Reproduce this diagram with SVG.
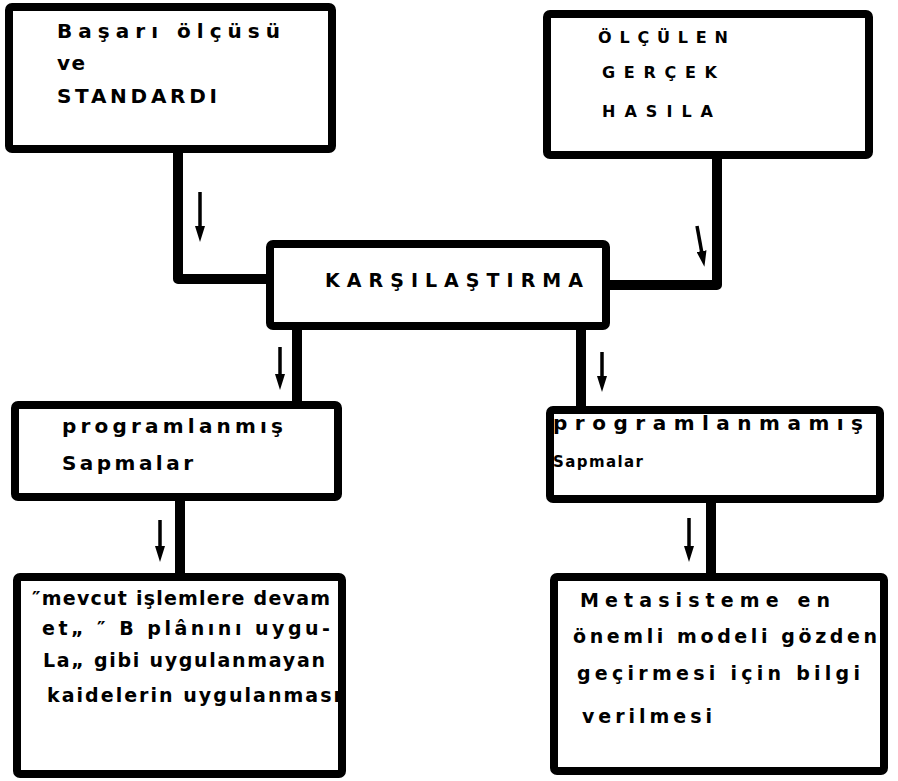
<svg xmlns="http://www.w3.org/2000/svg" width="898" height="781" viewBox="0 0 898 781">
<style>
.box{fill:#fff;stroke:#000;stroke-width:8;stroke-linejoin:round}
.conn{fill:none;stroke:#000;stroke-width:10;stroke-linejoin:round}
.arr{fill:none;stroke:#000;stroke-width:3.5}
.t{font-family:"DejaVu Sans","Liberation Sans",sans-serif;font-size:20px;font-weight:bold;fill:#000}
.s{font-size:16px}
.m{font-size:19px}
.xs{font-size:15px}
</style>
<defs>
<marker id="ah" viewBox="0 0 16 10" refX="8" refY="5" markerWidth="16" markerHeight="10" markerUnits="userSpaceOnUse" orient="auto">
<path d="M0,0 L16,5 L0,10 z" fill="#000"/>
</marker>
</defs>
<rect width="898" height="781" fill="#fff"/>
<g id="connectors">
<path class="conn" d="M178,149 V279 H270"/>
<path class="conn" d="M717,153 V285 H606"/>
<path class="conn" d="M297,326 V405"/>
<path class="conn" d="M581,326 V410"/>
<path class="conn" d="M180,497 V577"/>
<path class="conn" d="M711,499 V577"/>
<line class="arr" x1="200" y1="192" x2="200" y2="234" marker-end="url(#ah)"/>
<line class="arr" x1="697" y1="226" x2="703" y2="259" marker-end="url(#ah)"/>
<line class="arr" x1="280" y1="347" x2="280" y2="382" marker-end="url(#ah)"/>
<line class="arr" x1="602" y1="352" x2="602" y2="384" marker-end="url(#ah)"/>
<line class="arr" x1="160" y1="520" x2="160" y2="554" marker-end="url(#ah)"/>
<line class="arr" x1="689" y1="518" x2="689" y2="554" marker-end="url(#ah)"/>
</g>
<g id="basari">
<rect class="box" x="9" y="7" width="323" height="142" rx="3"/>
<text class="t" x="57" y="38" textLength="223" lengthAdjust="spacing">Başarı ölçüsü</text>
<text class="t" x="57" y="70" textLength="28" lengthAdjust="spacing">ve</text>
<text class="t" x="57" y="103" textLength="160" lengthAdjust="spacing">STANDARDI</text>
</g>
<g id="olculen">
<rect class="box" x="547" y="14" width="322" height="141" rx="3"/>
<text class="t s" x="598" y="43" textLength="130" lengthAdjust="spacing">ÖLÇÜLEN</text>
<text class="t s" x="602" y="78" textLength="115" lengthAdjust="spacing">GERÇEK</text>
<text class="t s" x="602" y="117" textLength="111" lengthAdjust="spacing">HASILA</text>
</g>
<g id="karsilastirma">
<rect class="box" x="270" y="244" width="336" height="82" rx="3"/>
<text class="t m" x="325" y="287" textLength="258" lengthAdjust="spacing">KARŞILAŞTIRMA</text>
</g>
<g id="programlanmis">
<rect class="box" x="15" y="405" width="323" height="92" rx="3"/>
<text class="t" x="62" y="433" textLength="221" lengthAdjust="spacing">programlanmış</text>
<text class="t" x="62" y="470" textLength="131" lengthAdjust="spacing">Sapmalar</text>
</g>
<g id="programlanmamis">
<rect class="box" x="550" y="410" width="330" height="89" rx="3"/>
<text class="t" x="553" y="430" textLength="310" lengthAdjust="spacing">programlanmamış</text>
<text class="t xs" x="553" y="467" textLength="90" lengthAdjust="spacing">Sapmalar</text>
</g>
<g id="mevcut">
<rect class="box" x="17" y="577" width="325" height="197" rx="3"/>
<text class="t m" x="32" y="605" textLength="298" lengthAdjust="spacing">″mevcut işlemlere devam</text>
<text class="t m" x="42" y="635" textLength="288" lengthAdjust="spacing">et„ ″ B plânını uygu-</text>
<text class="t m" x="43" y="667" textLength="282" lengthAdjust="spacing">La„ gibi uygulanmayan</text>
<text class="t m" x="47" y="702" textLength="293" lengthAdjust="spacing">kaidelerin uygulanması</text>
</g>
<g id="metasisteme">
<rect class="box" x="554" y="577" width="330" height="194" rx="3"/>
<text class="t m" x="580" y="607" textLength="250" lengthAdjust="spacing">Metasisteme en</text>
<text class="t m" x="573" y="643" textLength="304" lengthAdjust="spacing">önemli modeli gözden</text>
<text class="t m" x="577" y="680" textLength="283" lengthAdjust="spacing">geçirmesi için bilgi</text>
<text class="t m" x="582" y="723" textLength="130" lengthAdjust="spacing">verilmesi</text>
</g>
</svg>
